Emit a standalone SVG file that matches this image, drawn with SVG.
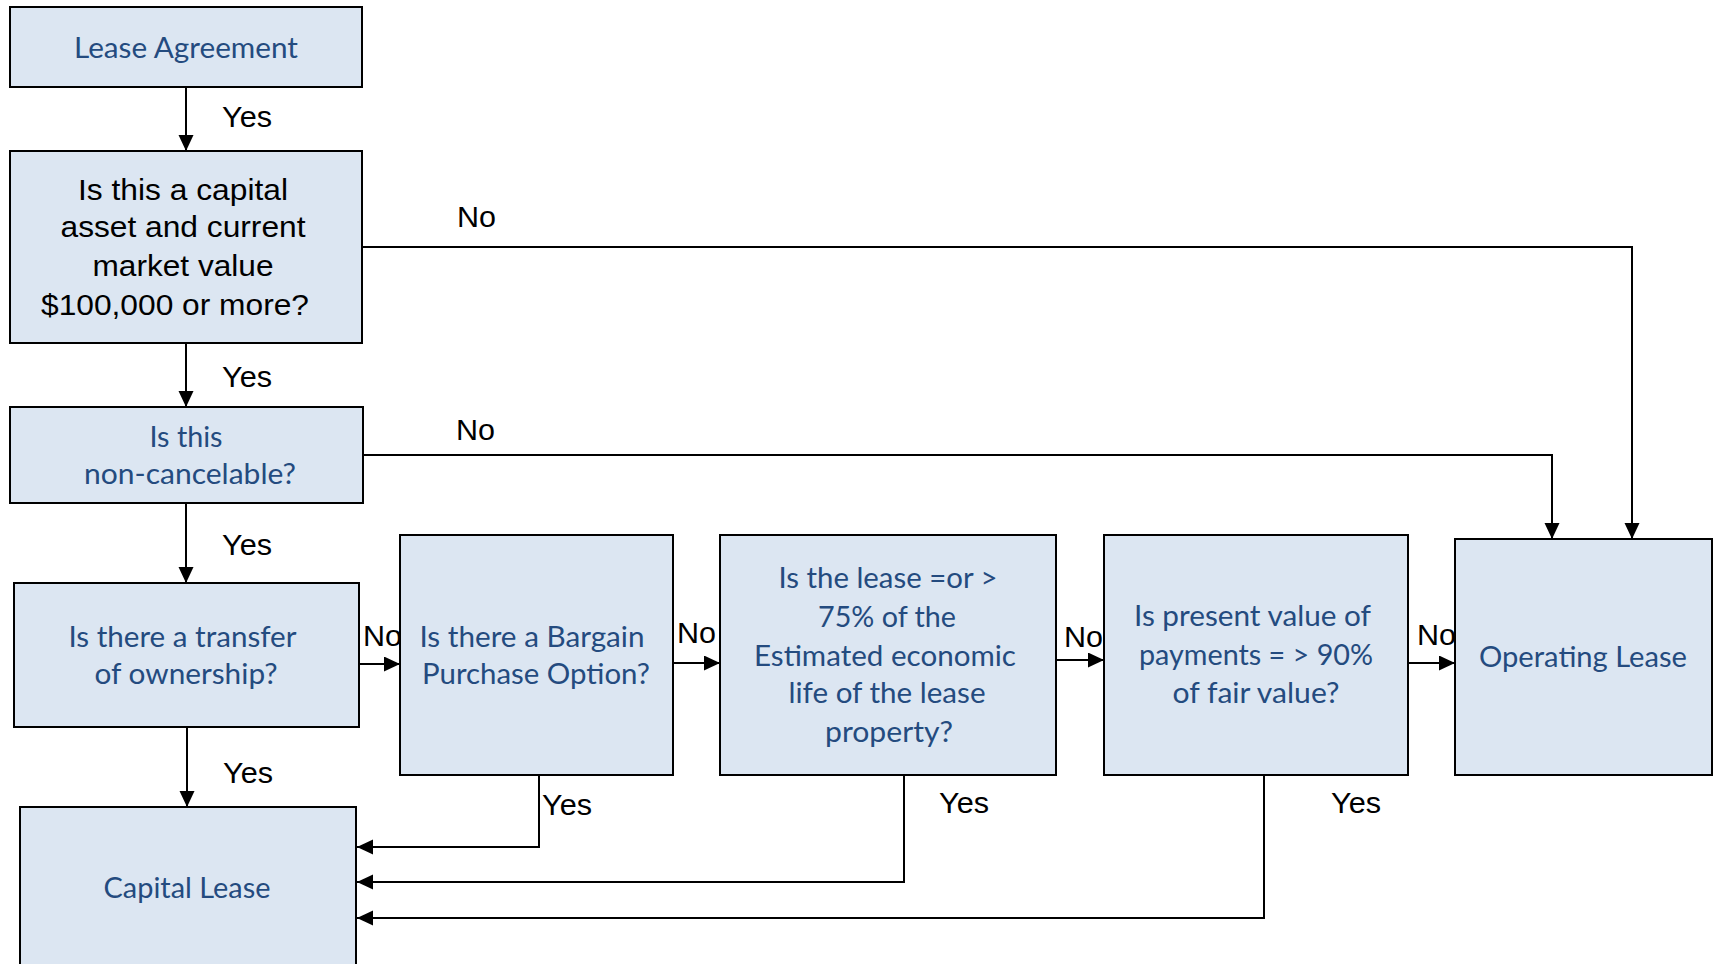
<svg xmlns="http://www.w3.org/2000/svg" width="1719" height="964" viewBox="0 0 1719 964">
  <style>
    .box { fill: #dce6f2; stroke: #000; stroke-width: 2; }
    .q { font-family: Lato, "Open Sans", sans-serif; font-size: 28px; fill: #244b7f; text-anchor: middle; }
    .qb { font-family: "Liberation Sans", Arial, sans-serif; font-size: 29px; fill: #000; text-anchor: middle; }
    .lbl { font-family: "Liberation Sans", Arial, sans-serif; font-size: 29px; fill: #000; }
    .conn { fill: none; stroke: #000; stroke-width: 2; marker-end: url(#arrow); }
  </style>
  <defs>
    <marker id="arrow" markerUnits="userSpaceOnUse" markerWidth="17" markerHeight="16" refX="16" refY="7.5" orient="auto">
      <path d="M0,0 L16,7.5 L0,15 Z" fill="#000"/>
    </marker>
  </defs>
  <rect width="1719" height="964" fill="#fff"/>

  <g id="connectors">
    <path class="conn" d="M186,87 V151"/>
    <path class="conn" d="M186,343 V407"/>
    <path class="conn" d="M186,503 V583"/>
    <path class="conn" d="M187,727 V807"/>
    <path class="conn" d="M362,247 H1632 V539"/>
    <path class="conn" d="M363,455 H1552 V539"/>
    <path class="conn" d="M359,664 H400"/>
    <path class="conn" d="M673,663 H720"/>
    <path class="conn" d="M1056,660 H1104"/>
    <path class="conn" d="M1408,663 H1455"/>
    <path class="conn" d="M539,775 V847 H357"/>
    <path class="conn" d="M904,775 V882 H357"/>
    <path class="conn" d="M1264,775 V918 H357"/>
  </g>

  <g id="edge-labels">
    <text class="lbl" x="222" y="127" textLength="50" lengthAdjust="spacingAndGlyphs">Yes</text>
    <text class="lbl" x="457" y="227" textLength="39" lengthAdjust="spacingAndGlyphs">No</text>
    <text class="lbl" x="222" y="387" textLength="50" lengthAdjust="spacingAndGlyphs">Yes</text>
    <text class="lbl" x="456" y="440" textLength="39" lengthAdjust="spacingAndGlyphs">No</text>
    <text class="lbl" x="222" y="555" textLength="50" lengthAdjust="spacingAndGlyphs">Yes</text>
    <text class="lbl" x="363" y="646" textLength="39" lengthAdjust="spacingAndGlyphs">No</text>
    <text class="lbl" x="677" y="643" textLength="39" lengthAdjust="spacingAndGlyphs">No</text>
    <text class="lbl" x="1064" y="647" textLength="39" lengthAdjust="spacingAndGlyphs">No</text>
    <text class="lbl" x="1417" y="645" textLength="39" lengthAdjust="spacingAndGlyphs">No</text>
    <text class="lbl" x="223" y="783" textLength="50" lengthAdjust="spacingAndGlyphs">Yes</text>
    <text class="lbl" x="542" y="815" textLength="50" lengthAdjust="spacingAndGlyphs">Yes</text>
    <text class="lbl" x="939" y="813" textLength="50" lengthAdjust="spacingAndGlyphs">Yes</text>
    <text class="lbl" x="1331" y="813" textLength="50" lengthAdjust="spacingAndGlyphs">Yes</text>
  </g>

  <g id="lease-agreement">
    <rect class="box" x="10" y="7" width="352" height="80"/>
    <text class="q" x="186" y="58" textLength="224" lengthAdjust="spacingAndGlyphs">Lease Agreement</text>
  </g>

  <g id="capital-asset">
    <rect class="box" x="10" y="151" width="352" height="192"/>
    <text class="qb" x="183" y="200" textLength="210" lengthAdjust="spacingAndGlyphs">Is this a capital</text>
    <text class="qb" x="183" y="237" textLength="245" lengthAdjust="spacingAndGlyphs">asset and current</text>
    <text class="qb" x="183" y="276" textLength="181" lengthAdjust="spacingAndGlyphs">market value</text>
    <text class="qb" x="175" y="315" textLength="268" lengthAdjust="spacingAndGlyphs">$100,000 or more?</text>
  </g>

  <g id="non-cancelable">
    <rect class="box" x="10" y="407" width="353" height="96"/>
    <text class="q" x="186" y="447" textLength="73" lengthAdjust="spacingAndGlyphs">Is this</text>
    <text class="q" x="190" y="484" textLength="212" lengthAdjust="spacingAndGlyphs">non-cancelable?</text>
  </g>

  <g id="transfer-ownership">
    <rect class="box" x="14" y="583" width="345" height="144"/>
    <text class="q" x="182.5" y="647" textLength="228" lengthAdjust="spacingAndGlyphs">Is there a transfer</text>
    <text class="q" x="186" y="684" textLength="183" lengthAdjust="spacingAndGlyphs">of ownership?</text>
  </g>

  <g id="bargain-purchase">
    <rect class="box" x="400" y="535" width="273" height="240"/>
    <text class="q" x="532" y="647" textLength="225" lengthAdjust="spacingAndGlyphs">Is there a Bargain</text>
    <text class="q" x="536" y="684" textLength="228" lengthAdjust="spacingAndGlyphs">Purchase Option?</text>
  </g>

  <g id="economic-life">
    <rect class="box" x="720" y="535" width="336" height="240"/>
    <text class="q" x="888" y="588" textLength="219" lengthAdjust="spacingAndGlyphs">Is the lease =or &gt;</text>
    <text class="q" x="887" y="627" textLength="138" lengthAdjust="spacingAndGlyphs">75% of the</text>
    <text class="q" x="885" y="666" textLength="262" lengthAdjust="spacingAndGlyphs">Estimated economic</text>
    <text class="q" x="887" y="703" textLength="197" lengthAdjust="spacingAndGlyphs">life of the lease</text>
    <text class="q" x="889" y="742" textLength="128" lengthAdjust="spacingAndGlyphs">property?</text>
  </g>

  <g id="present-value">
    <rect class="box" x="1104" y="535" width="304" height="240"/>
    <text class="q" x="1252.5" y="626" textLength="237" lengthAdjust="spacingAndGlyphs">Is present value of</text>
    <text class="q" x="1256" y="665" textLength="234" lengthAdjust="spacingAndGlyphs">payments = &gt; 90%</text>
    <text class="q" x="1256" y="703" textLength="167" lengthAdjust="spacingAndGlyphs">of fair value?</text>
  </g>

  <g id="operating-lease">
    <rect class="box" x="1455" y="539" width="257" height="236"/>
    <text class="q" x="1583" y="667" textLength="208" lengthAdjust="spacingAndGlyphs">Operating Lease</text>
  </g>

  <g id="capital-lease">
    <rect class="box" x="20" y="807" width="336" height="170"/>
    <text class="q" x="187" y="898" textLength="167" lengthAdjust="spacingAndGlyphs">Capital Lease</text>
  </g>
</svg>
